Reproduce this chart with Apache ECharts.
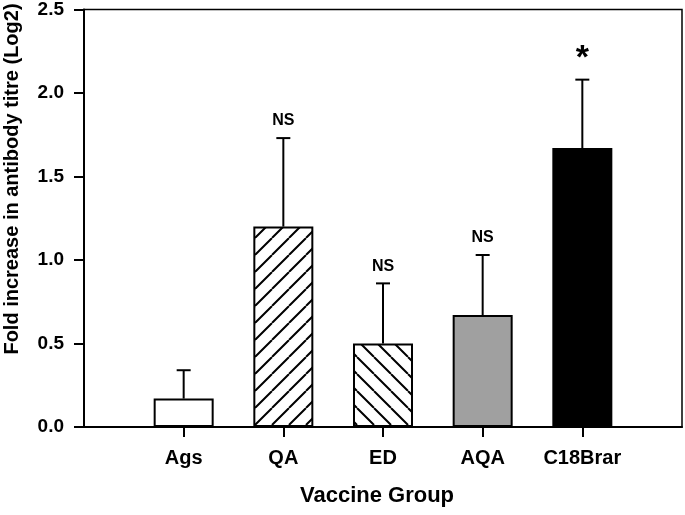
<!DOCTYPE html>
<html>
<head>
<meta charset="utf-8">
<script src="https://cdn.jsdelivr.net/npm/echarts@6/dist/echarts.min.js"></script>
<style>
html,body{margin:0;padding:0;background:#fff;}
#chart{width:685px;height:515px;}
</style>
</head>
<body>
<div id="chart"></div>
<script>
var categories = ['Ags', 'QA', 'ED', 'AQA', 'C18Brar'];
var means = [0.17, 1.20, 0.50, 0.67, 1.67];
var errUpper = [0.34, 1.73, 0.86, 1.03, 2.08];
var significance = ['', 'NS', 'NS', 'NS', '*'];
var yTicks = [0, 0.5, 1.0, 1.5, 2.0, 2.5];

var FONT = '"Liberation Sans", Arial, sans-serif';

function hatch(dir) {
  var s = 17;
  var c = document.createElement('canvas');
  c.width = s; c.height = s;
  var ctx = c.getContext('2d');
  ctx.fillStyle = '#fff';
  ctx.fillRect(0, 0, s, s);
  ctx.strokeStyle = '#000';
  ctx.lineWidth = 2;
  ctx.beginPath();
  for (var k = -s; k <= s; k += s) {
    if (dir === 'fwd') { ctx.moveTo(k, s); ctx.lineTo(k + s, 0); }
    else { ctx.moveTo(k, 0); ctx.lineTo(k + s, s); }
  }
  ctx.stroke();
  return c;
}

var fills = [
  '#ffffff',
  { image: hatch('fwd'), repeat: 'repeat' },
  { image: hatch('back'), repeat: 'repeat' },
  '#a0a0a0',
  '#000000'
];

// padded category axis: empty slots at both ends
var axisCats = [''].concat(categories, ['']);
var barData = [null];
var errData = [];
for (var i = 0; i < categories.length; i++) {
  barData.push({ value: means[i], itemStyle: { color: fills[i] } });
  errData.push([i + 1, means[i], errUpper[i], significance[i]]);
}
barData.push(null);

var chart = echarts.init(document.getElementById('chart'));
chart.setOption({
  animation: false,
  backgroundColor: '#fff',
  grid: { left: 84, right: 2, top: 7, bottom: 88, show: true, borderColor: '#000', borderWidth: 1.5, backgroundColor: 'transparent' },
  xAxis: {
    type: 'category',
    data: axisCats,
    boundaryGap: false,
    axisLine: { lineStyle: { color: '#000', width: 2 } },
    axisTick: { length: 10, lineStyle: { color: '#000', width: 2 }, interval: function (idx, val) { return val !== ''; } },
    axisLabel: { interval: 0, color: '#000', fontWeight: 'bold', fontSize: 20, fontFamily: FONT, margin: 21 },
    splitLine: { show: false }
  },
  yAxis: {
    type: 'value',
    min: yTicks[0], max: yTicks[yTicks.length - 1], interval: 0.5,
    axisLine: { show: true, lineStyle: { color: '#000', width: 2 } },
    axisTick: { show: true, length: 10, lineStyle: { color: '#000', width: 2 } },
    axisLabel: { color: '#000', fontWeight: 'bold', fontSize: 19, fontFamily: FONT, margin: 20, formatter: function (v) { return v.toFixed(1); } },
    splitLine: { show: false }
  },
  series: [
    {
      type: 'bar',
      data: barData,
      barWidth: 60,
      itemStyle: { borderColor: '#000', borderWidth: 2 },
      z: 2
    },
    {
      type: 'custom',
      data: errData,
      z: 3,
      renderItem: function (params, api) {
        var x = api.value(0);
        var p0 = api.coord([x, api.value(1)]);
        var p1 = api.coord([x, api.value(2)]);
        var label = errData[params.dataIndex][3];
        var children = [
          { type: 'line', shape: { x1: p0[0], y1: p0[1], x2: p1[0], y2: p1[1] }, style: { stroke: '#000', lineWidth: 2 } },
          { type: 'line', shape: { x1: p1[0] - 7, y1: p1[1], x2: p1[0] + 7, y2: p1[1] }, style: { stroke: '#000', lineWidth: 2 } }
        ];
        if (label) {
          var star = label === '*';
          children.push({
            type: 'text',
            x: p1[0], y: p1[1] - (star ? 4 : 9),
            style: {
              text: label, fill: '#000', align: 'center', verticalAlign: 'bottom',
              font: 'bold ' + (star ? 34 : 16) + 'px ' + FONT
            }
          });
        }
        return { type: 'group', children: children };
      }
    }
  ],
  graphic: [
    { type: 'text', x: 12, y: 179, rotation: Math.PI / 2,
      style: { text: 'Fold increase in antibody titre (Log2)', fill: '#000', align: 'center', verticalAlign: 'middle', font: 'bold 20px ' + FONT } },
    { type: 'text', x: 377, y: 496,
      style: { text: 'Vaccine Group', fill: '#000', align: 'center', verticalAlign: 'middle', font: 'bold 22px ' + FONT } }
  ]
});
</script>
</body>
</html>
